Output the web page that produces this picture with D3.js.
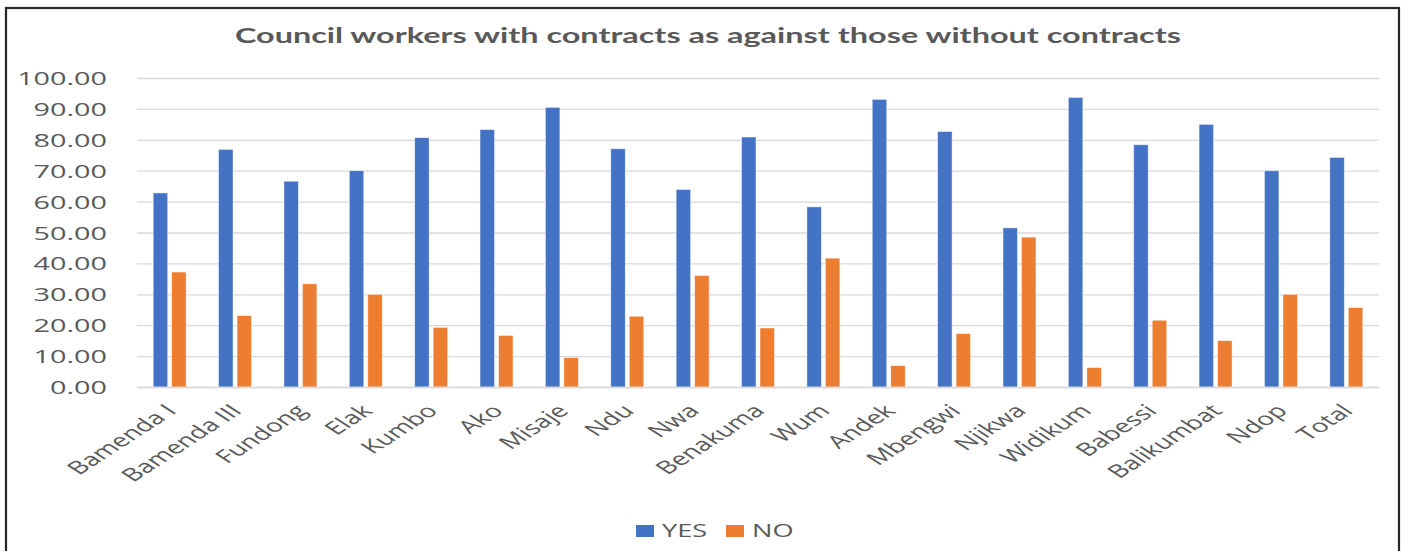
<!DOCTYPE html>
<html>
<head>
<meta charset="utf-8">
<script src="https://cdn.jsdelivr.net/npm/d3@7"></script>
<style>
  html, body { margin: 0; padding: 0; background: #fff; }
  svg { display: block; }
</style>
</head>
<body>
<svg id="chart" width="1405" height="551"></svg>
<script>
const categories = ["Bamenda I", "Bamenda III", "Fundong", "Elak", "Kumbo", "Ako", "Misaje", "Ndu", "Nwa", "Benakuma", "Wum", "Andek", "Mbengwi", "Njikwa", "Widikum", "Babessi", "Balikumbat", "Ndop", "Total"];
const yesValues = [62.8, 76.9, 66.6, 70.0, 80.7, 83.3, 90.5, 77.1, 63.9, 80.9, 58.3, 93.1, 82.7, 51.5, 93.7, 78.4, 85.0, 70.0, 74.3];
const noValues  = [37.2, 23.1, 33.4, 30.0, 19.3, 16.7, 9.5, 22.9, 36.1, 19.1, 41.7, 6.9, 17.3, 48.5, 6.3, 21.6, 15.0, 30.0, 25.7];
const seriesNames = ["YES", "NO"];
const seriesColors = ["#4472C4", "#ED7D31"];
const yTicks = [0, 10, 20, 30, 40, 50, 60, 70, 80, 90, 100];
const titleText = "Council workers with contracts as against those without contracts";

const SX = 1.55; // horizontal stretch of the original picture's text
const textColor = "#595959";
const gridColor = "#D9D9D9";
const labelFont = "'Open Sans', sans-serif";

const svg = d3.select("#chart");

// outer border
svg.append("rect")
  .attr("x", 6).attr("y", 8).attr("width", 1393).attr("height", 600)
  .attr("fill", "#fff").attr("stroke", "#262626").attr("stroke-width", 2.2);

const plot = { left: 137, right: 1379, top: 78, bottom: 387 };

const x0 = d3.scaleBand().domain(categories).range([plot.left, plot.right])
  .paddingInner(0.495).paddingOuter(0.2475);
const x1 = d3.scaleBand().domain(seriesNames).range([0, x0.bandwidth()]).paddingInner(0.216);
const y = d3.scaleLinear().domain([0, 100]).range([plot.bottom, plot.top]);

// title
svg.append("text")
  .attr("x", 708).attr("y", 43)
  .attr("text-anchor", "middle")
  .attr("font-family", "Lato, 'DejaVu Sans', sans-serif")
  .attr("font-weight", "bold")
  .attr("font-size", 20)
  .attr("fill", textColor)
  .attr("textLength", 946)
  .attr("lengthAdjust", "spacingAndGlyphs")
  .text(titleText);

// y axis with gridlines
const yAxis = svg.append("g")
  .attr("transform", `translate(${plot.left},0)`)
  .call(d3.axisLeft(y).tickValues(yTicks).tickFormat(d3.format(".2f"))
    .tickSize(-(plot.right - plot.left)).tickPadding(0));
yAxis.select(".domain").remove();
yAxis.selectAll(".tick line").attr("stroke", gridColor).attr("stroke-width", 1.3);
yAxis.selectAll(".tick text")
  .attr("x", null).attr("dy", null)
  .attr("transform", `translate(-30,6.5) scale(1.6,1)`)
  .attr("text-anchor", "end")
  .attr("font-family", labelFont)
  .attr("font-size", 18)
  .attr("fill", textColor);

// bars
const groups = svg.append("g").selectAll("g")
  .data(categories)
  .join("g")
  .attr("transform", d => `translate(${x0(d)},0)`);

groups.selectAll("rect")
  .data((d, i) => [
    { key: seriesNames[0], value: yesValues[i], color: seriesColors[0] },
    { key: seriesNames[1], value: noValues[i], color: seriesColors[1] }
  ])
  .join("rect")
  .attr("x", d => x1(d.key))
  .attr("y", d => y(d.value))
  .attr("width", x1.bandwidth())
  .attr("height", d => y(0) - y(d.value))
  .attr("fill", d => d.color)
  .attr("stroke", "#fff")
  .attr("stroke-opacity", 0.6)
  .attr("stroke-width", 0.8);

// x axis
const xAxis = svg.append("g")
  .attr("transform", `translate(0,${plot.bottom})`)
  .call(d3.axisBottom(d3.scaleBand().domain(categories).range([plot.left, plot.right]))
    .tickSize(0).tickPadding(0).tickSizeOuter(0));
xAxis.select(".domain").attr("stroke", gridColor).attr("stroke-width", 1.6);
xAxis.selectAll(".tick text")
  .attr("y", null).attr("dy", null)
  .attr("transform", `translate(8,25) scale(${SX},1) rotate(-45)`)
  .attr("text-anchor", "end")
  .attr("font-family", labelFont)
  .attr("font-size", 18)
  .attr("fill", textColor);

// legend
const legendItems = [
  { name: seriesNames[0], color: seriesColors[0], sx: 636, tx: 662 },
  { name: seriesNames[1], color: seriesColors[1], sx: 726, tx: 752 }
];
const legend = svg.append("g");
legendItems.forEach(it => {
  legend.append("rect")
    .attr("x", it.sx).attr("y", 525).attr("width", 18).attr("height", 12)
    .attr("fill", it.color);
  legend.append("text")
    .attr("transform", `translate(${it.tx},537) scale(${SX},1)`)
    .attr("font-family", labelFont)
    .attr("font-size", 17.5)
    .attr("fill", textColor)
    .text(it.name);
});
</script>
</body>
</html>
